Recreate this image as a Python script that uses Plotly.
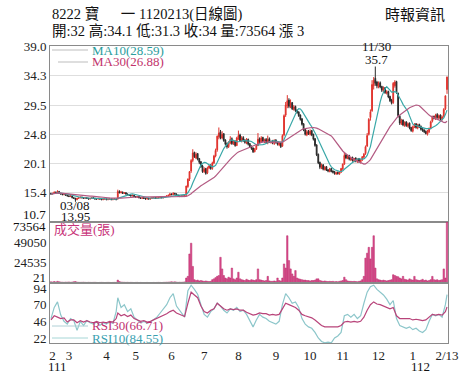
import plotly.graph_objects as go
from plotly.subplots import make_subplots
import pandas as pd

# ---------------- data (trading-day index 0..243, 2022-02-14 .. 2023-02-13) ----------------
opens = [
15.3,15.2,15.3,15.5,15.4,15.6,15.3,15.2,15.1,15.2,
15.0,14.9,14.8,14.9,14.6,14.5,14.3,14.5,14.6,14.7,
14.6,14.5,14.6,14.5,14.4,14.5,14.6,14.5,14.4,14.4,
14.5,14.4,14.3,14.4,14.4,14.3,14.4,14.4,14.3,14.4,
14.4,14.4,15.6,15.4,15.5,15.3,15.4,15.2,15.1,15.0,
14.9,15.0,14.8,14.7,14.8,14.6,14.5,14.6,14.5,14.4,
14.5,14.4,14.5,14.6,14.6,14.5,14.6,14.6,14.7,14.6,
14.7,14.8,14.9,15.0,15.2,15.1,15.3,15.2,15.0,14.9,
14.8,14.9,14.8,15.0,16.4,17.6,18.9,20.6,21.9,21.0,
21.7,20.9,20.4,19.7,18.8,19.3,18.6,19.4,19.8,19.3,
20.2,21.3,22.3,24.4,25.2,24.2,24.9,23.9,23.3,22.8,
23.4,24.1,23.3,23.7,23.0,24.1,24.7,23.7,24.3,23.9,
23.4,24.0,23.3,22.9,22.6,22.0,22.4,23.0,24.1,23.5,
24.3,23.6,24.0,23.4,24.1,23.5,23.7,23.3,23.9,23.6,
23.1,23.5,22.9,24.7,27.9,29.4,30.3,29.2,29.9,28.8,
29.3,28.7,28.4,27.9,27.3,26.5,25.6,24.7,25.3,24.8,
25.4,24.8,24.1,23.1,21.6,20.3,19.4,19.9,19.1,19.6,
19.1,18.8,19.3,18.9,18.8,18.4,18.7,18.4,18.7,19.2,
20.0,21.5,20.9,21.4,20.7,21.1,20.5,21.0,20.4,20.9,
20.3,20.7,21.1,21.7,22.9,24.8,27.5,28.6,32.6,33.8,
33.2,32.4,33.1,32.5,31.8,32.3,31.4,31.7,30.9,30.3,
29.9,32.6,33.3,31.4,27.7,26.5,27.1,26.2,26.8,26.1,
26.6,25.9,25.3,26.0,26.5,25.8,26.4,26.1,25.7,25.5,
25.3,24.8,25.2,25.8,26.9,27.7,27.3,28.0,27.4,27.9,
27.2,27.7,28.9,32.0]

highs = [
15.4,15.4,15.6,15.6,15.8,15.7,15.4,15.3,15.3,15.3,
15.1,15.0,15.0,15.0,14.7,14.6,14.6,14.7,14.8,14.8,
14.7,14.7,14.7,14.6,14.6,14.7,14.7,14.6,14.5,14.6,
14.6,14.5,14.5,14.5,14.5,14.5,14.5,14.5,14.5,14.5,
14.5,15.9,15.8,15.7,15.6,15.5,15.5,15.3,15.2,15.1,
15.1,15.1,14.9,14.9,14.9,14.7,14.7,14.7,14.6,14.6,
14.6,14.6,14.7,14.7,14.7,14.7,14.7,14.8,14.8,14.8,
14.9,15.0,15.1,15.4,15.3,15.5,15.4,15.3,15.1,15.0,
15.0,15.0,15.1,16.5,17.7,18.9,20.8,22.4,22.0,21.9,
21.8,21.0,20.5,19.9,19.5,19.4,19.6,19.9,20.0,20.4,
21.5,22.5,24.6,25.9,25.5,25.3,25.0,24.0,23.5,23.7,
24.5,24.3,23.9,23.8,24.4,25.4,24.9,24.5,24.5,24.0,
24.2,24.1,23.4,23.0,22.7,22.6,23.2,25.0,24.3,24.5,
24.4,24.1,24.2,24.6,24.3,23.8,23.9,24.0,24.0,23.7,
23.6,23.6,24.8,28.0,30.0,31.1,30.6,30.4,30.0,29.5,
29.4,28.8,28.5,28.0,27.4,26.6,25.7,25.5,25.5,25.6,
25.5,24.9,24.2,23.2,21.7,20.4,20.1,20.0,19.7,19.7,
19.2,19.4,19.4,19.0,18.9,18.8,18.8,18.8,19.4,20.1,
21.9,21.6,21.5,21.5,21.2,21.2,21.0,21.1,20.9,21.0,
20.8,21.3,21.8,23.0,25.0,27.4,28.8,33.5,34.0,35.7,
33.4,33.3,33.3,32.6,32.5,32.4,31.9,31.8,31.0,30.5,
33.2,33.5,33.4,31.5,27.9,27.3,27.2,26.9,26.9,26.7,
26.7,26.0,26.2,26.6,26.6,26.5,26.5,26.2,25.8,25.6,
25.4,25.5,25.9,27.0,27.8,27.8,28.1,28.2,28.0,28.0,
27.8,29.0,31.0,34.1]

lows = [
15.1,15.1,15.2,15.3,15.3,15.2,15.1,15.0,15.0,14.9,
14.8,14.7,14.7,14.5,14.4,13.95,14.2,14.4,14.5,14.5,
14.4,14.4,14.4,14.3,14.3,14.4,14.4,14.3,14.3,14.3,
14.3,14.2,14.2,14.3,14.2,14.2,14.3,14.2,14.2,14.3,
14.2,14.3,15.3,15.3,15.2,15.2,15.1,15.0,14.9,14.8,
14.8,14.7,14.6,14.6,14.5,14.4,14.4,14.4,14.3,14.3,
14.3,14.3,14.4,14.5,14.4,14.4,14.5,14.5,14.5,14.5,
14.6,14.7,14.8,14.9,15.0,15.0,15.1,14.9,14.8,14.7,
14.7,14.7,14.7,14.9,16.2,17.3,18.6,20.3,21.0,20.8,
20.6,20.0,19.4,18.6,18.6,18.3,18.4,19.2,19.1,19.1,
20.0,21.1,22.0,24.0,24.0,24.0,23.6,23.0,22.5,22.6,
23.2,23.1,23.1,22.8,22.9,23.9,23.6,23.5,23.6,23.3,
23.2,23.0,22.6,22.3,21.8,21.9,22.3,22.9,23.3,23.4,
23.5,23.4,23.3,23.2,23.4,23.3,23.2,23.1,23.3,23.0,
22.9,22.6,22.8,24.5,27.6,29.0,29.0,29.0,28.7,28.6,
28.4,28.1,27.6,27.0,26.2,25.3,24.6,24.5,24.7,24.6,
24.5,23.8,22.8,21.3,20.0,19.2,19.2,19.0,19.0,18.9,
18.7,18.7,18.7,18.5,18.3,18.3,18.3,18.3,18.6,19.1,
19.9,20.8,20.8,20.6,20.5,20.4,20.3,20.3,20.2,20.2,
20.1,20.5,20.9,21.5,22.8,24.6,27.0,28.4,32.0,32.6,
32.2,32.2,32.2,31.6,31.5,31.3,31.2,30.6,30.0,29.6,
29.7,32.3,31.3,27.5,26.3,26.3,26.1,26.0,26.0,25.9,
25.6,25.2,25.1,25.8,25.7,25.6,25.8,25.4,25.2,25.0,
24.8,24.6,25.0,25.6,26.7,27.2,27.1,27.3,27.2,27.1,
27.0,27.5,28.7,31.3]

closes = [
15.2,15.3,15.5,15.4,15.6,15.3,15.2,15.1,15.2,15.0,
14.9,14.8,14.9,14.6,14.5,14.3,14.5,14.6,14.7,14.6,
14.5,14.6,14.5,14.4,14.5,14.6,14.5,14.4,14.4,14.5,
14.4,14.3,14.4,14.4,14.3,14.4,14.4,14.3,14.4,14.4,
14.3,15.6,15.4,15.5,15.3,15.4,15.2,15.1,15.0,14.9,
15.0,14.8,14.7,14.8,14.6,14.5,14.6,14.5,14.4,14.5,
14.4,14.5,14.6,14.6,14.5,14.6,14.6,14.7,14.6,14.7,
14.8,14.9,15.0,15.2,15.1,15.3,15.2,15.0,14.9,14.8,
14.9,14.8,15.0,16.5,17.6,18.8,20.6,21.8,21.2,21.6,
20.8,20.3,19.6,18.8,19.2,18.5,19.4,19.7,19.3,20.2,
21.3,22.2,24.5,25.0,24.2,24.8,23.8,23.2,22.8,23.5,
24.0,23.3,23.6,23.0,24.2,24.6,23.8,24.2,23.8,23.5,
23.9,23.2,22.8,22.5,22.0,22.4,23.0,24.0,23.6,24.2,
23.7,23.9,23.5,24.0,23.6,23.6,23.4,23.8,23.5,23.2,
23.4,22.8,24.6,27.8,29.5,30.2,29.3,29.8,28.9,29.2,
28.6,28.3,27.8,27.2,26.4,25.5,24.8,25.2,24.9,25.3,
24.7,24.0,23.0,21.5,20.2,19.5,19.8,19.2,19.5,19.0,
18.9,19.2,18.8,18.7,18.5,18.6,18.5,18.7,19.3,20.0,
21.4,21.0,21.3,20.8,21.0,20.6,20.9,20.5,20.8,20.4,
20.7,21.2,21.6,22.8,24.6,27.2,28.4,32.8,33.5,33.0,
32.6,33.0,32.4,31.9,32.2,31.5,31.6,30.8,30.2,29.8,
33.0,33.2,31.5,27.8,26.6,27.0,26.3,26.7,26.2,26.5,
25.8,25.4,26.0,26.4,25.9,26.3,26.0,25.6,25.4,25.2,
24.9,25.3,25.7,26.8,27.6,27.4,27.9,27.5,27.8,27.3,
27.6,28.8,31.0,34.0]

volumes = [
1500,1200,1800,1300,2000,1500,1200,1000,900,1100,
1000,1300,900,1200,1500,1800,1100,900,800,900,
1000,800,700,900,800,700,800,900,700,600,
700,800,700,600,700,800,700,600,700,800,
700,3500,1800,1200,1000,900,800,900,700,800,
700,600,700,800,600,700,600,500,600,700,
600,500,600,700,600,700,800,700,600,800,
900,1000,1100,1300,1500,1200,1400,1100,900,1000,
900,1100,1300,6000,8000,35000,48000,20000,4000,3000,
3500,2500,3000,2500,2000,2500,2000,1800,2000,4000,
5000,6500,8000,9000,31000,17000,9000,6000,5000,7000,
6000,18000,5000,4000,6000,13000,5000,4000,3500,3000,
4500,3500,3000,4000,3500,3000,4000,17000,4000,3500,
3000,2500,3000,8000,2500,2000,2000,2500,2000,6000,
3000,2500,6000,23000,18000,57000,27000,17000,11000,8000,
15000,6000,5000,4500,4000,3500,3500,3000,3000,2500,
3000,3000,3500,5000,5000,3000,2500,2000,2500,2000,
1800,2000,1800,2000,1500,1800,1500,2000,2500,3000,
7000,4000,2500,2000,2000,1800,2000,1800,1500,2000,
2500,4000,8000,30000,36000,43000,29000,43000,57000,18000,
5000,4000,3500,3000,3500,3000,2500,3000,3500,4000,
10000,9000,8000,7500,6000,5000,8000,4500,4000,3500,
5000,4000,3500,8000,4000,3500,3000,3500,4500,3000,
3500,2500,3000,4000,8000,4000,3500,4000,3000,3500,
4000,17000,6000,73564]

rsi_idx = [0,2,4,6,8,10,12,14,16,18,20,22,24,26,28,30,32,34,36,38,40,
           41,43,45,47,49,51,53,55,57,59,61,63,65,67,69,71,73,75,77,79,81,82,
           84,86,88,90,92,94,96,98,100,102,104,106,108,110,112,114,116,118,120,
           122,124,126,128,130,132,134,136,138,140,142,144,146,148,150,152,154,
           156,158,160,162,164,166,168,170,172,174,176,178,180,182,184,186,188,
           190,192,194,196,198,200,202,204,206,208,210,212,214,216,218,220,222,
           224,226,228,230,232,234,236,238,240,242,243]
rsi10 = [50,66,74,55,46,42,50,47,33,46,40,47,44,42,45,40,44,42,45,43,60,
         80,66,70,60,64,52,48,44,46,43,45,48,52,58,64,70,80,86,68,62,56,52,
         90,98,92,85,70,56,52,60,64,72,68,62,58,64,62,66,60,62,56,
         46,38,48,56,52,50,46,44,42,46,70,86,80,72,74,66,50,
         42,38,36,30,22,17,15,16,15,22,25,30,54,56,52,56,50,
         54,72,88,96,98,92,88,84,78,70,76,50,40,38,36,38,34,
         36,32,30,34,46,56,54,56,52,70,84.55]
rsi30 = [48,54,52,50,51,45,48,48,44,47,45,47,45,44,46,44,45,44,46,45,50,
         58,54,56,53,55,50,48,46,47,45,46,48,50,52,55,57,60,62,58,56,54,53,
         72,88,84,80,68,60,58,62,64,72,68,64,62,64,63,64,62,62,59,
         57,55,56,58,57,57,55,56,55,56,64,72,70,68,66,62,56,
         54,53,51,48,44,40,38,38,38,38,38,40,45,46,45,46,45,
         46,52,62,70,74,71,70,68,66,64,66,54,50,50,49,50,48,
         49,48,47,48,52,56,55,56,55,60,66.71]

month_pos = [1, 11, 34, 52, 74, 94, 115, 138, 159, 179, 201, 222, 243]
month_txt = ["2", "3", "4", "5", "6", "7", "8", "9", "10", "11", "12", "1", "2/13"]
price_ticks = [15.4, 20.1, 24.8, 29.5, 34.3, 39.0]
vol_ticks = [24535, 49050]
rsi_ticks = [22, 46, 70, 94]

idx = list(range(len(closes)))
ma10 = pd.Series(closes).rolling(10, min_periods=1).mean()
ma30 = pd.Series(closes).rolling(30, min_periods=1).mean()

# ---------------- figure ----------------
SERIF = "Liberation Serif, Noto Sans CJK TC, serif"
fig = make_subplots(rows=3, cols=1, shared_xaxes=True, vertical_spacing=0,
                    row_heights=[176, 61, 60])

fig.add_trace(go.Candlestick(
    x=idx, open=opens, high=highs, low=lows, close=closes,
    increasing=dict(line=dict(color="#e0322c", width=1), fillcolor="#e0322c"),
    decreasing=dict(line=dict(color="#2a2a2a", width=1), fillcolor="#2a2a2a"),
    whiskerwidth=0, hoverinfo="skip"), row=1, col=1)
fig.add_trace(go.Scatter(x=idx, y=ma10, mode="lines",
                         line=dict(color="#3aa8a8", width=1.2), hoverinfo="skip"), row=1, col=1)
fig.add_trace(go.Scatter(x=idx, y=ma30, mode="lines",
                         line=dict(color="#b35a82", width=1.2), hoverinfo="skip"), row=1, col=1)

fig.add_trace(go.Bar(x=idx, y=volumes, marker=dict(color="#dc4a8c",
                     line=dict(color="#b8306c", width=0.5)), width=0.9,
                     hoverinfo="skip"), row=2, col=1)

fig.add_trace(go.Scatter(x=rsi_idx, y=rsi10, mode="lines",
                         line=dict(color="#8cc6ca", width=1.2), hoverinfo="skip"), row=3, col=1)
fig.add_trace(go.Scatter(x=rsi_idx, y=rsi30, mode="lines",
                         line=dict(color="#b8447a", width=1.2), hoverinfo="skip"), row=3, col=1)

axis_common = dict(showline=True, mirror=True, linecolor="#8a8a8a", linewidth=1,
                   ticks="", tickfont=dict(family=SERIF, size=13, color="#222"))
for r in (1, 2, 3):
    fig.update_xaxes(range=[-0.6, 243.6], showgrid=False, zeroline=False,
                     rangeslider=dict(visible=False), row=r, col=1, **axis_common)
fig.update_xaxes(showticklabels=False, row=1, col=1)
fig.update_xaxes(showticklabels=False, row=2, col=1)
fig.update_xaxes(tickmode="array", tickvals=month_pos, ticktext=month_txt,
                 showticklabels=True, row=3, col=1)

fig.update_yaxes(range=[10.7, 39.0], tickmode="array", tickvals=price_ticks,
                 ticktext=[f"{v:.1f}" for v in price_ticks],
                 showgrid=True, gridcolor="#dedede", zeroline=False, row=1, col=1, **axis_common)
fig.update_yaxes(range=[0, 73564], tickmode="array", tickvals=vol_ticks,
                 ticktext=[str(v) for v in vol_ticks],
                 showgrid=False, zeroline=False, row=2, col=1, **axis_common)
fig.update_yaxes(range=[14.8, 101.2], tickmode="array", tickvals=rsi_ticks,
                 ticktext=[str(v) for v in rsi_ticks],
                 showgrid=False, zeroline=False, row=3, col=1, **axis_common)

L, T, PW, PH, B = 50, 46, 398, 297, 343
def px(xp): return (xp - L) / PW
def py(yp): return (B - yp) / PH

ann = []
def txt(x, y, s, color="#111", size=13, xanchor="left", yanchor="middle"):
    ann.append(dict(x=px(x), y=py(y), xref="paper", yref="paper", text=s,
                    showarrow=False, xanchor=xanchor, yanchor=yanchor,
                    font=dict(family=SERIF, size=size, color=color)))

txt(50, 14, "8222 寶　&nbsp; 一 1120213(日線圖)", size=14.5)
txt(50, 31, "開:32 高:34.1 低:31.3 收:34 量:73564 漲 3", size=14.5)
txt(447, 15, "時報資訊", size=15, xanchor="right")
txt(90, 50, "MA10(28.59)", color="#2a9d9d")
txt(90, 62, "MA30(26.88)", color="#c2336b")
txt(52, 229, "成交量(張)", color="#c8347a")
txt(90, 325, "RSI30(66.71)", color="#c03070")
txt(90, 338, "RSI10(84.55)", color="#3a9fb0")
txt(48, 214, "10.7", xanchor="right")
txt(48, 226, "73564", xanchor="right")
txt(48, 277, "21", xanchor="right")
txt(57, 366, "111", xanchor="center")
txt(420, 366, "112", xanchor="center")
# extreme-point labels (two separate lines, tight spacing as in the original)
txt(376, 47, "11/30", xanchor="center")
txt(376, 59, "35.7", xanchor="center")
txt(75, 205, "03/08", xanchor="center")
txt(75, 216, "13.95", xanchor="center")

shapes = []
def hline(x0, x1, y, color):
    shapes.append(dict(type="line", xref="paper", yref="paper", x0=px(x0), x1=px(x1),
                       y0=py(y), y1=py(y), line=dict(color=color, width=1)))
hline(52, 88, 50, "#bdbdbd")
hline(58, 88, 62, "#bdbdbd")
hline(52, 88, 326, "#b0d0d6")
hline(52, 88, 338, "#a6d6d6")

fig.update_layout(width=474, height=380, margin=dict(l=L, r=474 - L - PW, t=T, b=380 - B),
                  paper_bgcolor="white", plot_bgcolor="white", showlegend=False,
                  annotations=ann, shapes=shapes, bargap=0)

fig.write_html("out.html", config={"displayModeBar": False, "staticPlot": True},
               post_script="document.body.style.margin='0';document.body.style.padding='0';")
